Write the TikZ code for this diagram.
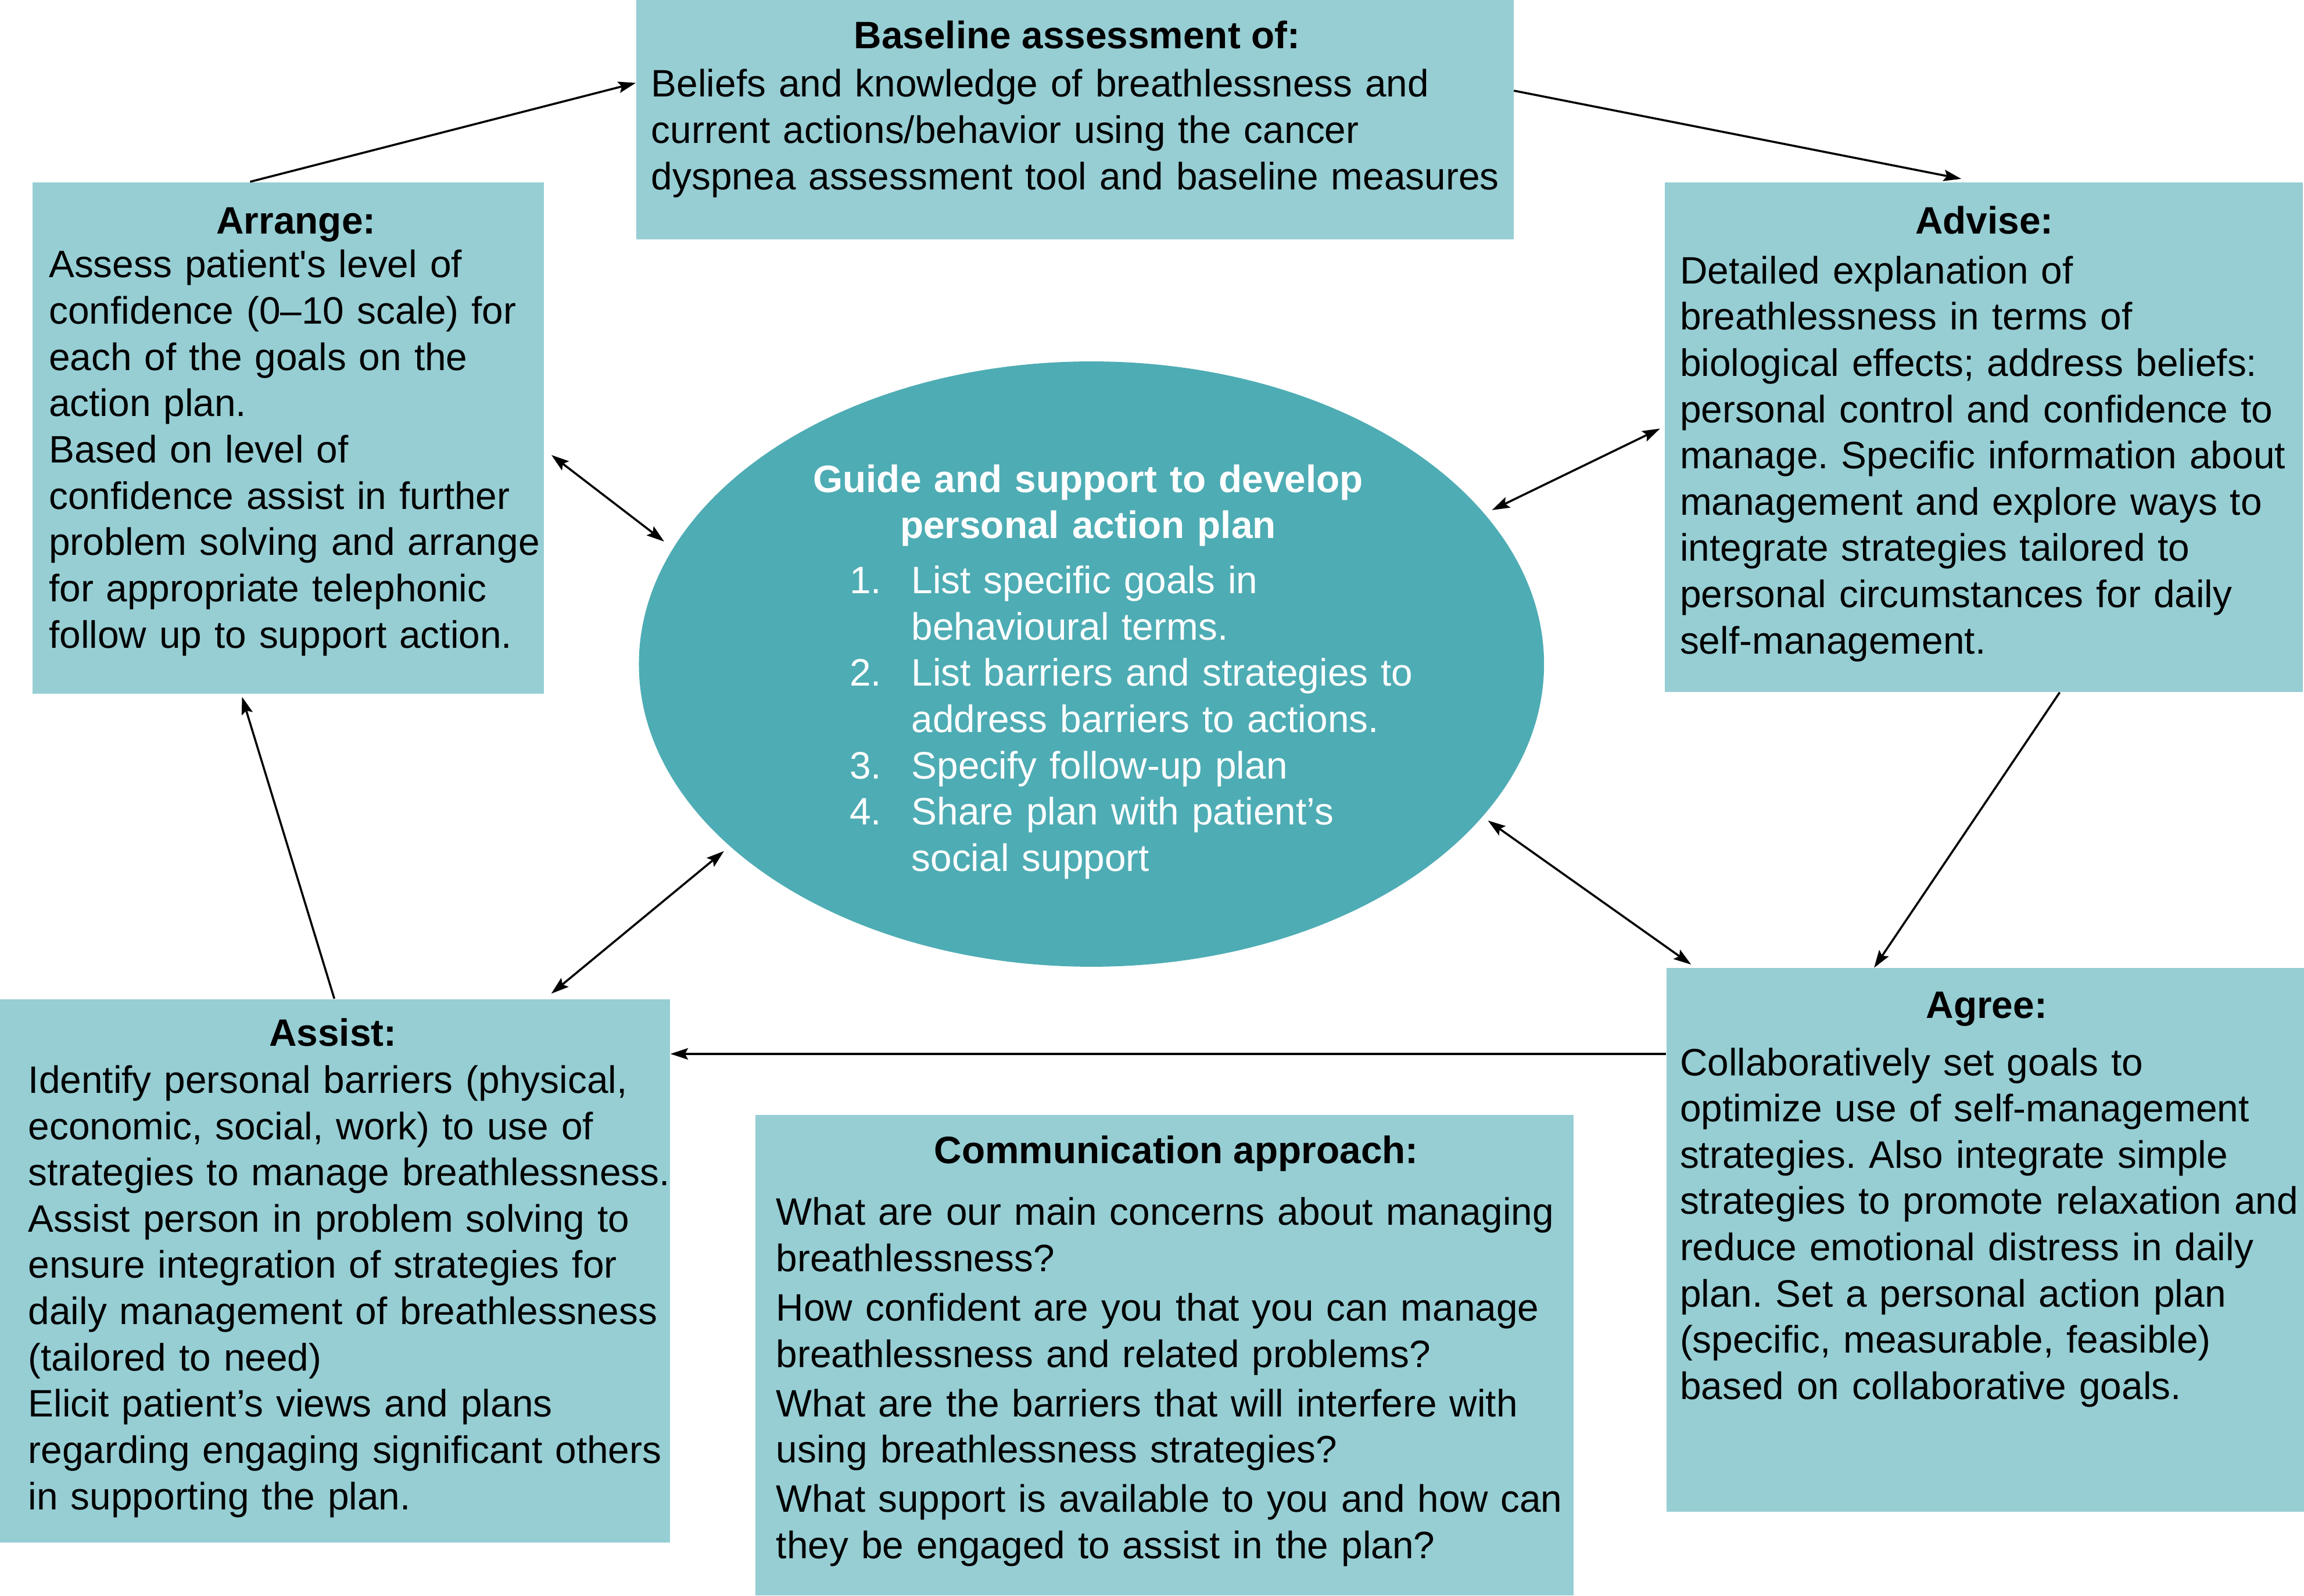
\documentclass[tikz,border=0pt]{standalone}
\usepackage{fontspec}
\setmainfont{Liberation Sans}
\usetikzlibrary{shapes.geometric,fit,arrows.meta,calc}
\definecolor{boxc}{RGB}{150,206,212}
\definecolor{planc}{RGB}{78,172,180}
\frenchspacing
\begin{document}
\begin{tikzpicture}[x=0.025cm,y=-0.025cm,
  box/.style={fill=boxc, draw=none, inner sep=0pt},
  plan/.style={ellipse, fill=planc, draw=none, inner sep=0pt},
  body/.style={anchor=base west, inner sep=0pt, text width=20cm, align=left, font=\fontsize{18.5}{22.4}\selectfont\frenchspacing},
  ttl/.style={anchor=base, inner sep=0pt, font=\fontsize{18.5}{22.4}\selectfont\bfseries},
  tip/.tip={Stealth[length=8.5pt,width=5.5pt,inset=1.5pt]},
  conn/.style={line width=1pt, -tip},
  dconn/.style={line width=1pt, tip-tip},
]
\useasboundingbox (0,0) rectangle (1568,1086);
\fill[white] (0,0) rectangle (1568,1086);

% boxes
\node[box, fit={(433,0)(1030,163)}] (base) {};
\node[box, fit={(22,124)(370,472)}] (arrange) {};
\node[box, fit={(1133,124)(1567,471)}] (advise) {};
\node[box, fit={(1134,659)(1568,1029)}] (agree) {};
\node[box, fit={(0,680)(456,1050)}] (assist) {};
\node[box, fit={(514,759)(1071,1086)}] (comm) {};
\node[plan, minimum width=616*0.025cm, minimum height=412*0.025cm] (plan) at (742.8,452) {};

% texts
\node[ttl] (baset) at (733,33) {Baseline assessment of:};
\node[body] (baseb) at (443,66) {Beliefs and knowledge of breathlessness and\\current actions/behavior using the cancer\\dyspnea assessment tool and baseline measures};

\node[ttl] (arranget) at (201.5,159) {Arrange:};
\node[body] (arrangeb) at (33,189) {Assess patient\textquotesingle s level of\\confidence (0–10 scale) for\\each of the goals on the\\action plan.\\Based on level of\\confidence assist in further\\problem solving and arrange\\for appropriate telephonic\\follow up to support action.};

\node[ttl] (adviset) at (1350.5,159) {Advise:};
\node[body] (adviseb) at (1143,193) {Detailed explanation of\\breathlessness in terms of\\biological effects; address beliefs:\\personal control and confidence to\\manage. Specific information about\\management and explore ways to\\integrate strategies tailored to\\personal circumstances for daily\\self-management.};

\node[ttl] (agreet) at (1352,693) {Agree:};
\node[body] (agreeb) at (1143,732) {Collaboratively set goals to\\optimize use of self-management\\strategies. Also integrate simple\\strategies to promote relaxation and\\reduce emotional distress in daily\\plan. Set a personal action plan\\(specific, measurable, feasible)\\based on collaborative goals.};

\node[ttl] (assistt) at (226.5,712) {Assist:};
\node[body] (assistb) at (19,744) {Identify personal barriers (physical,\\economic, social, work) to use of\\strategies to manage breathlessness.\\Assist person in problem solving to\\ensure integration of strategies for\\daily management of breathlessness\\(tailored to need)\\Elicit patient’s views and plans\\regarding engaging significant others\\in supporting the plan.};

\node[ttl] (commt) at (800.5,792) {Communication approach:};
\node[body] (commb) at (528,834) {What are our main concerns about managing\\breathlessness?\\[1.5pt]How confident are you that you can manage\\breathlessness and related problems?\\[1.5pt]What are the barriers that will interfere with\\using breathlessness strategies?\\[1.5pt]What support is available to you and how can\\they be engaged to assist in the plan?};

\node[ttl, text=white, text width=12cm, align=center] (plant) at (740.5,335) {Guide and support to develop\\personal action plan};
\node[body, text=white] (planb) at (578,404) {\makebox[29.9pt][l]{1.}List specific goals in\\\hspace*{29.9pt}behavioural terms.\\\makebox[29.9pt][l]{2.}List barriers and strategies to\\\hspace*{29.9pt}address barriers to actions.\\\makebox[29.9pt][l]{3.}Specify follow-up plan\\\makebox[29.9pt][l]{4.}Share plan with patient’s\\\hspace*{29.9pt}social support};

% cycle connectors
\draw[conn] ($(arrange.north west)+(148.5,0)$) -- ($(base.north west)+(0,56.7)$);
\draw[conn] ($(base.north east)+(0,62)$) -- ($(advise.north west)+(202,-2)$);
\draw[conn] ($(advise.south west)+(269,0)$) -- ($(agree.north west)+(141.7,0)$);
\draw[conn] ($(agree.north west)+(0,58.6)$) -- ($(assist.north east)+(0,37.6)$);
\draw[conn] ($(assist.north west)+(227.8,0)$) -- ($(arrange.south west)+(143,2)$);

% double connectors with the plan
\draw[dconn] ($(arrange.north east)+(5,186)$) -- ($(plan.center)+(-290.8,-83.4)$);
\draw[dconn] ($(advise.north west)+(-3,168)$) -- ($(plan.center)+(272.6,-104.8)$);
\draw[dconn] ($(plan.center)+(269.8,106.5)$) -- ($(agree.north west)+(17.2,-2.2)$);
\draw[dconn] ($(plan.center)+(-250.1,127.3)$) -- ($(assist.north east)+(-81.1,-3.4)$);
\end{tikzpicture}
\end{document}
